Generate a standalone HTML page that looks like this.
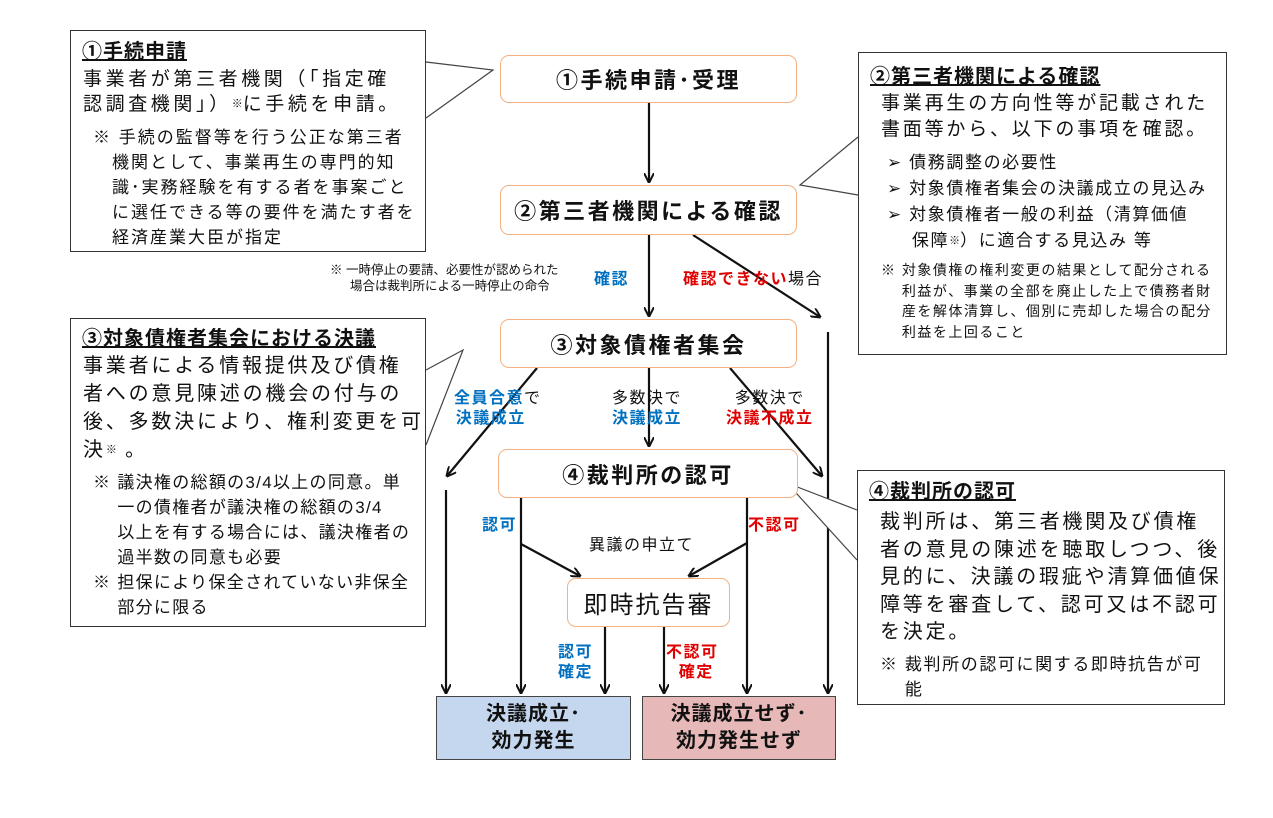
<!DOCTYPE html>
<html><head><meta charset="utf-8"><style>
body{margin:0;width:1273px;height:818px;background:#fff;position:relative;overflow:hidden;font-family:"Liberation Sans","Noto Sans CJK JP",sans-serif;color:#111}
.a{position:absolute}
.ob{position:absolute;border:1.5px solid #f4b183;border-radius:9px;background:#fff;display:flex;align-items:center;justify-content:center;font-weight:bold;font-size:22px;letter-spacing:2.5px;box-sizing:border-box;white-space:nowrap}
.co{position:absolute;border:1.3px solid #333;background:#fff;box-sizing:border-box;white-space:nowrap}
.co div{position:absolute;white-space:nowrap}
.h{font-weight:bold;text-decoration:underline;font-size:20px;line-height:24px;letter-spacing:1px}
.bl{color:#0070c0;font-weight:bold}.rd{color:#e00000;font-weight:bold}
.lb{position:absolute;font-size:16px;line-height:20px;text-align:center;letter-spacing:1.5px;white-space:nowrap}
.res{position:absolute;border:1.5px solid #444;box-sizing:border-box;display:flex;align-items:center;justify-content:center;text-align:center;font-weight:bold;font-size:20px;line-height:27px;letter-spacing:1px}
sup{font-size:11px;vertical-align:top;letter-spacing:0}
</style></head><body>
<svg class="a" style="left:0;top:0" width="1273" height="818">
<defs><marker id="ar" markerWidth="10" markerHeight="10" refX="9" refY="5" orient="auto" markerUnits="userSpaceOnUse"><path d="M0,0 L10,5 L0,10" fill="none" stroke="#111" stroke-width="2"/></marker></defs>
<g stroke="#111" stroke-width="2.2" fill="none" marker-end="url(#ar)">
<line x1="649" y1="103" x2="649" y2="182"/>
<line x1="649" y1="235" x2="649" y2="316"/>
<line x1="693" y1="235" x2="820" y2="317"/>
<line x1="828" y1="332" x2="828" y2="693"/>
<line x1="649" y1="368" x2="649" y2="446"/>
<line x1="537" y1="368" x2="447" y2="476"/>
<line x1="446" y1="490" x2="446" y2="693"/>
<line x1="730" y1="368" x2="822" y2="476"/>
<line x1="521" y1="498" x2="521" y2="693"/>
<line x1="521" y1="544" x2="580" y2="576"/>
<line x1="747" y1="498" x2="747" y2="693"/>
<line x1="747" y1="543" x2="689" y2="576"/>
<line x1="605" y1="627" x2="605" y2="693"/>
<line x1="664" y1="627" x2="664" y2="693"/>
</g>
<g stroke="#444" stroke-width="1.2" fill="#fff">
<polyline points="426,62 493,70 426,118"/>
<polyline points="858,137 800,185 858,195"/>
<polyline points="426,370 463,350 426,445"/>
<polyline points="857,510 787,483 857,560"/>
</g>
</svg>
<div class="ob" style="left:500px;top:55px;width:297px;height:48px">①手続申請･受理</div>
<div class="ob" style="left:500px;top:185px;width:297px;height:50px">②第三者機関による確認</div>
<div class="ob" style="left:500px;top:319px;width:297px;height:49px">③対象債権者集会</div>
<div class="ob" style="left:498px;top:449px;width:300px;height:49px">④裁判所の認可</div>
<div class="ob" style="left:567px;top:578px;width:163px;height:49px;font-weight:normal;font-size:24px;letter-spacing:2px">即時抗告審</div>
<div class="res" style="left:436px;top:696px;width:195px;height:64px;background:#c5d7ef">決議成立･<br>効力発生</div>
<div class="res" style="left:642px;top:696px;width:194px;height:64px;background:#e6b8b7">決議成立せず･<br>効力発生せず</div>

<div class="co" style="left:70px;top:30px;width:356px;height:222px">
<div class="h" style="left:11px;top:9px">①手続申請</div>
<div style="left:12px;top:36px;font-size:19px;line-height:25px;letter-spacing:3.6px">事業者が第三者機関（｢指定確<br>認調査機関｣）<sup>※</sup>に手続を申請。</div>
<div style="left:22px;top:94px;font-size:17px;line-height:25px;letter-spacing:2px">※ 手続の監督等を行う公正な第三者<br>　機関として、事業再生の専門的知<br>　識･実務経験を有する者を事案ごと<br>　に選任できる等の要件を満たす者を<br>　経済産業大臣が指定</div>
</div>
<div class="co" style="left:858px;top:52px;width:369px;height:303px">
<div class="h" style="left:11px;top:12px">②第三者機関による確認</div>
<div style="left:22px;top:38px;font-size:19px;line-height:26px;letter-spacing:2.8px">事業再生の方向性等が記載された<br>書面等から、以下の事項を確認。</div>
<div style="left:28px;top:97px;font-size:17px;line-height:26px;letter-spacing:1.6px">➢ 債務調整の必要性<br>➢ 対象債権者集会の決議成立の見込み<br>➢ 対象債権者一般の利益（清算価値<br>　 保障<sup>※</sup>）に適合する見込み 等</div>
<div style="left:22px;top:207px;font-size:14px;line-height:20.5px;letter-spacing:1.5px">※ 対象債権の権利変更の結果として配分される<br>　 利益が、事業の全部を廃止した上で債務者財<br>　 産を解体清算し、個別に売却した場合の配分<br>　 利益を上回ること</div>
</div>
<div class="co" style="left:70px;top:318px;width:356px;height:309px">
<div class="h" style="left:11px;top:8px">③対象債権者集会における決議</div>
<div style="left:12px;top:33px;font-size:20px;line-height:28px;letter-spacing:2.8px">事業者による情報提供及び債権<br>者への意見陳述の機会の付与の<br>後、多数決により、権利変更を可<br>決<sup>※</sup> 。</div>
<div style="left:22px;top:151px;font-size:17px;line-height:25px;letter-spacing:1.3px">※ 議決権の総額の3/4以上の同意。単<br>　 一の債権者が議決権の総額の3/4<br>　 以上を有する場合には、議決権者の<br>　 過半数の同意も必要<br>※ 担保により保全されていない非保全<br>　 部分に限る</div>
</div>
<div class="co" style="left:857px;top:470px;width:368px;height:235px">
<div class="h" style="left:11px;top:9px">④裁判所の認可</div>
<div style="left:22px;top:38px;font-size:20px;line-height:27.5px;letter-spacing:2.8px">裁判所は、第三者機関及び債権<br>者の意見の陳述を聴取しつつ、後<br>見的に、決議の瑕疵や清算価値保<br>障等を審査して、認可又は不認可<br>を決定。</div>
<div style="left:22px;top:181px;font-size:17px;line-height:25px;letter-spacing:1.6px">※ 裁判所の認可に関する即時抗告が可<br>　 能</div>
</div>

<div class="a" style="left:330px;top:262px;font-size:12.5px;line-height:16px;white-space:nowrap">※ 一時停止の要請、必要性が認められた<br><span style="padding-left:20px">場合は裁判所による一時停止の命令</span></div>
<div class="lb bl" style="left:594px;top:270px">確認</div>
<div class="lb" style="left:683px;top:270px"><span class="rd">確認できない</span>場合</div>
<div class="lb" style="left:454px;top:389px"><span class="bl">全員合意</span>で<br><span class="bl" style="padding-right:14px">決議成立</span></div>
<div class="lb" style="left:612px;top:389px">多数決で<br><span class="bl">決議成立</span></div>
<div class="lb" style="left:726px;top:389px">多数決で<br><span class="rd">決議不成立</span></div>
<div class="lb bl" style="left:482px;top:516px">認可</div>
<div class="lb rd" style="left:748px;top:516px">不認可</div>
<div class="lb" style="left:589px;top:536px">異議の申立て</div>
<div class="lb bl" style="left:558px;top:643px">認可<br>確定</div>
<div class="lb rd" style="left:666px;top:643px">不認可<br><span style="padding-left:8px">確定</span></div>
</body></html>
